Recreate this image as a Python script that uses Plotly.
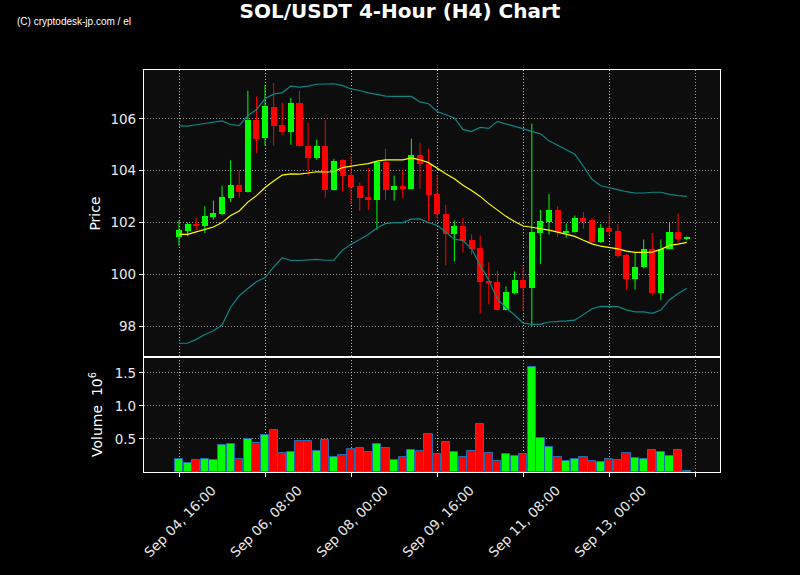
import pandas as pd
import plotly.graph_objects as go
from plotly.subplots import make_subplots

# ---- data (4-hour candles, starting Sep 04 16:00) ----
start_time = "2024-09-04 16:00"
opens = [101.45, 101.68, 101.95, 101.87, 102.21, 102.32, 102.95, 103.44, 103.18, 105.97,
         105.26, 106.47, 105.78, 105.49, 106.59, 104.97, 104.49, 104.97, 103.26, 104.40,
         103.82, 103.40, 102.97, 102.87, 104.32, 103.26, 103.40, 103.29, 104.59, 104.27,
         103.09, 102.35, 101.56, 101.86, 101.32, 101.01, 99.76, 99.71, 98.64, 99.29,
         99.78, 99.49, 101.60, 102.01, 102.47, 101.63, 101.63, 102.17, 102.09, 101.24,
         101.78, 101.67, 100.74, 99.83, 100.27, 100.97, 99.29, 100.99, 101.63, 101.36]
highs = [102.09, 102.00, 102.19, 102.63, 102.85, 103.42, 104.40, 104.01, 107.08, 106.86,
         107.31, 107.38, 106.62, 106.81, 107.08, 105.85, 105.19, 105.96, 104.46, 104.44,
         104.55, 103.54, 104.10, 104.36, 104.85, 103.81, 104.04, 105.23, 105.08, 104.85,
         103.85, 102.69, 102.08, 102.19, 101.55, 101.50, 100.47, 100.15, 99.54, 100.12,
         100.31, 105.81, 102.49, 103.10, 102.63, 101.96, 102.27, 102.41, 102.18, 101.94,
         102.36, 101.94, 100.80, 100.85, 101.35, 101.60, 101.35, 101.99, 102.35, 101.46]
lows = [101.10, 101.47, 101.71, 101.60, 102.12, 102.28, 102.79, 102.96, 103.16, 104.69,
        104.97, 104.97, 105.38, 105.00, 104.93, 103.82, 104.42, 102.96, 103.24, 103.21,
        102.71, 102.45, 102.49, 101.73, 102.88, 102.85, 102.94, 103.27, 103.31, 102.06,
        102.15, 100.35, 100.50, 100.85, 100.76, 98.50, 98.85, 98.62, 98.62, 99.23,
        98.60, 98.01, 100.40, 101.54, 101.45, 101.42, 101.61, 101.76, 101.22, 101.22,
        101.51, 100.65, 99.42, 99.42, 100.25, 99.19, 99.01, 100.97, 101.23, 101.32]
closes = [101.71, 101.94, 101.87, 102.24, 102.36, 102.97, 103.44, 103.18, 105.97, 105.21,
          106.51, 105.74, 105.49, 106.59, 104.95, 104.49, 104.94, 103.26, 104.36, 103.79,
          103.36, 102.95, 102.87, 104.33, 103.26, 103.40, 103.29, 104.59, 104.26, 103.06,
          102.33, 101.56, 101.86, 101.29, 100.99, 99.72, 99.68, 98.64, 99.32, 99.78,
          99.49, 101.63, 102.05, 102.47, 101.63, 101.67, 102.17, 102.04, 101.24, 101.78,
          101.63, 100.72, 99.83, 100.27, 100.97, 99.29, 101.00, 101.63, 101.36, 101.44]
volumes_m = [0.197, 0.136, 0.182, 0.197, 0.182, 0.409, 0.424, 0.197, 0.500, 0.439,
             0.561, 0.636, 0.288, 0.303, 0.470, 0.470, 0.318, 0.485, 0.227, 0.258,
             0.348, 0.364, 0.303, 0.424, 0.364, 0.182, 0.227, 0.333, 0.318, 0.576,
             0.273, 0.455, 0.303, 0.227, 0.318, 0.727, 0.288, 0.167, 0.273, 0.242,
             0.273, 1.591, 0.515, 0.379, 0.227, 0.167, 0.197, 0.227, 0.167, 0.152,
             0.197, 0.182, 0.288, 0.212, 0.197, 0.333, 0.303, 0.242, 0.333, 0.015]
sma20 = [101.55, 101.55, 101.64, 101.74, 101.83, 102.00, 102.27, 102.45, 102.79, 103.04,
         103.35, 103.60, 103.83, 103.88, 103.87, 103.91, 103.96, 103.95, 103.96, 104.12,
         104.18, 104.23, 104.27, 104.37, 104.42, 104.42, 104.42, 104.49, 104.42, 104.31,
         104.09, 103.88, 103.69, 103.44, 103.24, 103.01, 102.73, 102.47, 102.24, 102.04,
         101.87, 101.82, 101.77, 101.71, 101.63, 101.55, 101.47, 101.32, 101.18, 101.09,
         101.05, 100.99, 100.90, 100.85, 100.85, 100.86, 100.97, 101.12, 101.17, 101.24]
bb_upper = [105.73, 105.72, 105.77, 105.82, 105.86, 105.92, 105.78, 105.74, 106.13, 106.35,
            106.78, 106.95, 107.01, 107.26, 107.22, 107.26, 107.33, 107.33, 107.35, 107.28,
            107.15, 107.09, 107.00, 106.94, 106.87, 106.86, 106.86, 106.86, 106.65, 106.58,
            106.28, 106.17, 106.03, 105.59, 105.51, 105.67, 105.63, 105.90, 105.81, 105.69,
            105.62, 105.53, 105.42, 105.15, 104.97, 104.79, 104.63, 104.17, 103.67, 103.42,
            103.33, 103.27, 103.19, 103.14, 103.14, 103.17, 103.17, 103.09, 103.04, 103.01]
bb_lower = [97.35, 97.35, 97.50, 97.69, 97.83, 98.05, 98.74, 99.18, 99.46, 99.72,
            99.88, 100.29, 100.65, 100.54, 100.54, 100.55, 100.58, 100.55, 100.55, 100.94,
            101.17, 101.35, 101.54, 101.79, 101.96, 102.00, 102.00, 102.13, 102.14, 102.00,
            101.90, 101.64, 101.36, 101.31, 100.99, 100.36, 99.78, 99.06, 98.71, 98.44,
            98.12, 98.08, 98.08, 98.17, 98.18, 98.21, 98.24, 98.45, 98.68, 98.77,
            98.77, 98.76, 98.64, 98.56, 98.56, 98.50, 98.63, 99.03, 99.27, 99.46]
price_ticks = [98, 100, 102, 104, 106]
volume_ticks = [0.5, 1.0, 1.5]
tick_step_hours = 40
n_labelled_ticks = 6

# ---- build ----
times = pd.date_range(start_time, periods=len(opens), freq="4h")
step_ms = 4 * 3600 * 1000
UP, DOWN = "#00ff00", "#ff0000"

up = [c >= o for o, c in zip(opens, closes)]

fig = make_subplots(rows=2, cols=1, shared_xaxes=True, vertical_spacing=0,
                    row_heights=[0.714, 0.286])

def wick_xy(flag):
    xs, ys = [], []
    for t, h, l, u in zip(times, highs, lows, up):
        if u == flag:
            xs += [t, t, None]
            ys += [l, h, None]
    return xs, ys

for flag, col in [(True, UP), (False, DOWN)]:
    xs, ys = wick_xy(flag)
    fig.add_trace(go.Scatter(x=xs, y=ys, mode="lines", line=dict(color=col, width=1),
                             hoverinfo="skip", showlegend=False), row=1, col=1)

body_base = [min(o, c) for o, c in zip(opens, closes)]
body_h = [max(abs(c - o), 0.03) for o, c in zip(opens, closes)]
fig.add_trace(go.Bar(x=times, y=body_h, base=body_base, width=0.7 * step_ms,
                     marker=dict(color=[UP if u else DOWN for u in up], line=dict(width=0)),
                     showlegend=False), row=1, col=1)

BAND = "#0f8585"
fig.add_trace(go.Scatter(x=times, y=bb_upper, mode="lines",
                         line=dict(color=BAND, width=1.2), showlegend=False), row=1, col=1)
fig.add_trace(go.Scatter(x=times, y=bb_lower, mode="lines",
                         line=dict(color=BAND, width=1.2), showlegend=False), row=1, col=1)
fig.add_trace(go.Scatter(x=times, y=sma20, mode="lines",
                         line=dict(color="#ffff00", width=1.2), showlegend=False), row=1, col=1)

fig.add_trace(go.Bar(x=times, y=volumes_m, width=0.95 * step_ms,
                     marker=dict(color=[UP if u else DOWN for u in up],
                                 line=dict(color="#1f6fb0", width=1)),
                     showlegend=False), row=2, col=1)

t0 = times[0]
tickvals = [t0 + pd.Timedelta(hours=tick_step_hours * k) for k in range(n_labelled_ticks)]
ticktext = [t.strftime("%b %d, %H:%M") for t in tickvals]
x_lo = t0 - pd.Timedelta(hours=4 * 4.07)
x_hi = t0 + pd.Timedelta(hours=4 * 62.87)

FONT = "DejaVu Sans"
GRIDCOL = "rgba(200,200,200,0.75)"
GRIDDASH = "1px,2px"
axis_style = dict(showgrid=True, gridcolor=GRIDCOL, griddash=GRIDDASH, gridwidth=1,
                  showline=True, mirror=True, linecolor="white", linewidth=1.2,
                  ticks="outside", tickcolor="white", ticklen=4, tickwidth=1,
                  tickfont=dict(family=FONT, size=13.5, color="#e8e8e8"), zeroline=False)

minor_x = dict(tick0=t0, dtick=tick_step_hours * 3600 * 1000, showgrid=True,
               gridcolor=GRIDCOL, griddash=GRIDDASH, gridwidth=1)

fig.update_xaxes(**axis_style, range=[x_lo, x_hi], tickvals=tickvals, ticktext=ticktext)
fig.update_xaxes(showticklabels=False, ticks="", minor=dict(**minor_x, ticks=""), row=1, col=1)
fig.update_xaxes(tickangle=-45, ticklabelshift=33,
                 minor=dict(**minor_x, ticks="outside", ticklen=4, tickcolor="white", tickwidth=1),
                 row=2, col=1)

fig.update_yaxes(**axis_style)
fig.update_yaxes(range=[96.82, 107.88], tickvals=price_ticks,
                 title=dict(text="Price", font=dict(family=FONT, size=14, color="white"), standoff=6),
                 row=1, col=1)
fig.update_yaxes(range=[0, 1.742], tickvals=volume_ticks, tickformat=".1f",
                 title=dict(text="Volume  10<sup>6</sup>", font=dict(family=FONT, size=14, color="white"),
                            standoff=8),
                 row=2, col=1)

fig.update_layout(
    width=800, height=575,
    margin=dict(l=144, r=80, t=69.5, b=102.7),
    paper_bgcolor="#000000", plot_bgcolor="#0d0d0d",
    barmode="overlay", bargap=0,
    title=dict(text="<b>SOL/USDT 4-Hour (H4) Chart</b>", x=0.5, xanchor="center",
               y=1 - 11 / 575, yanchor="middle", font=dict(family=FONT, size=20, color="white")),
    annotations=[dict(text="(C) cryptodesk-jp.com / el", xref="paper", yref="paper",
                      x=(15 - 144) / 576, y=1 + (69.5 - 21) / 402.8,
                      xanchor="left", yanchor="middle", showarrow=False,
                      font=dict(family="Liberation Sans", size=10, color="white"))],
    showlegend=False,
)

fig.write_html("out.html", config={"displayModeBar": False},
               post_script="document.body.style.margin='0';document.body.style.background='#000';")
